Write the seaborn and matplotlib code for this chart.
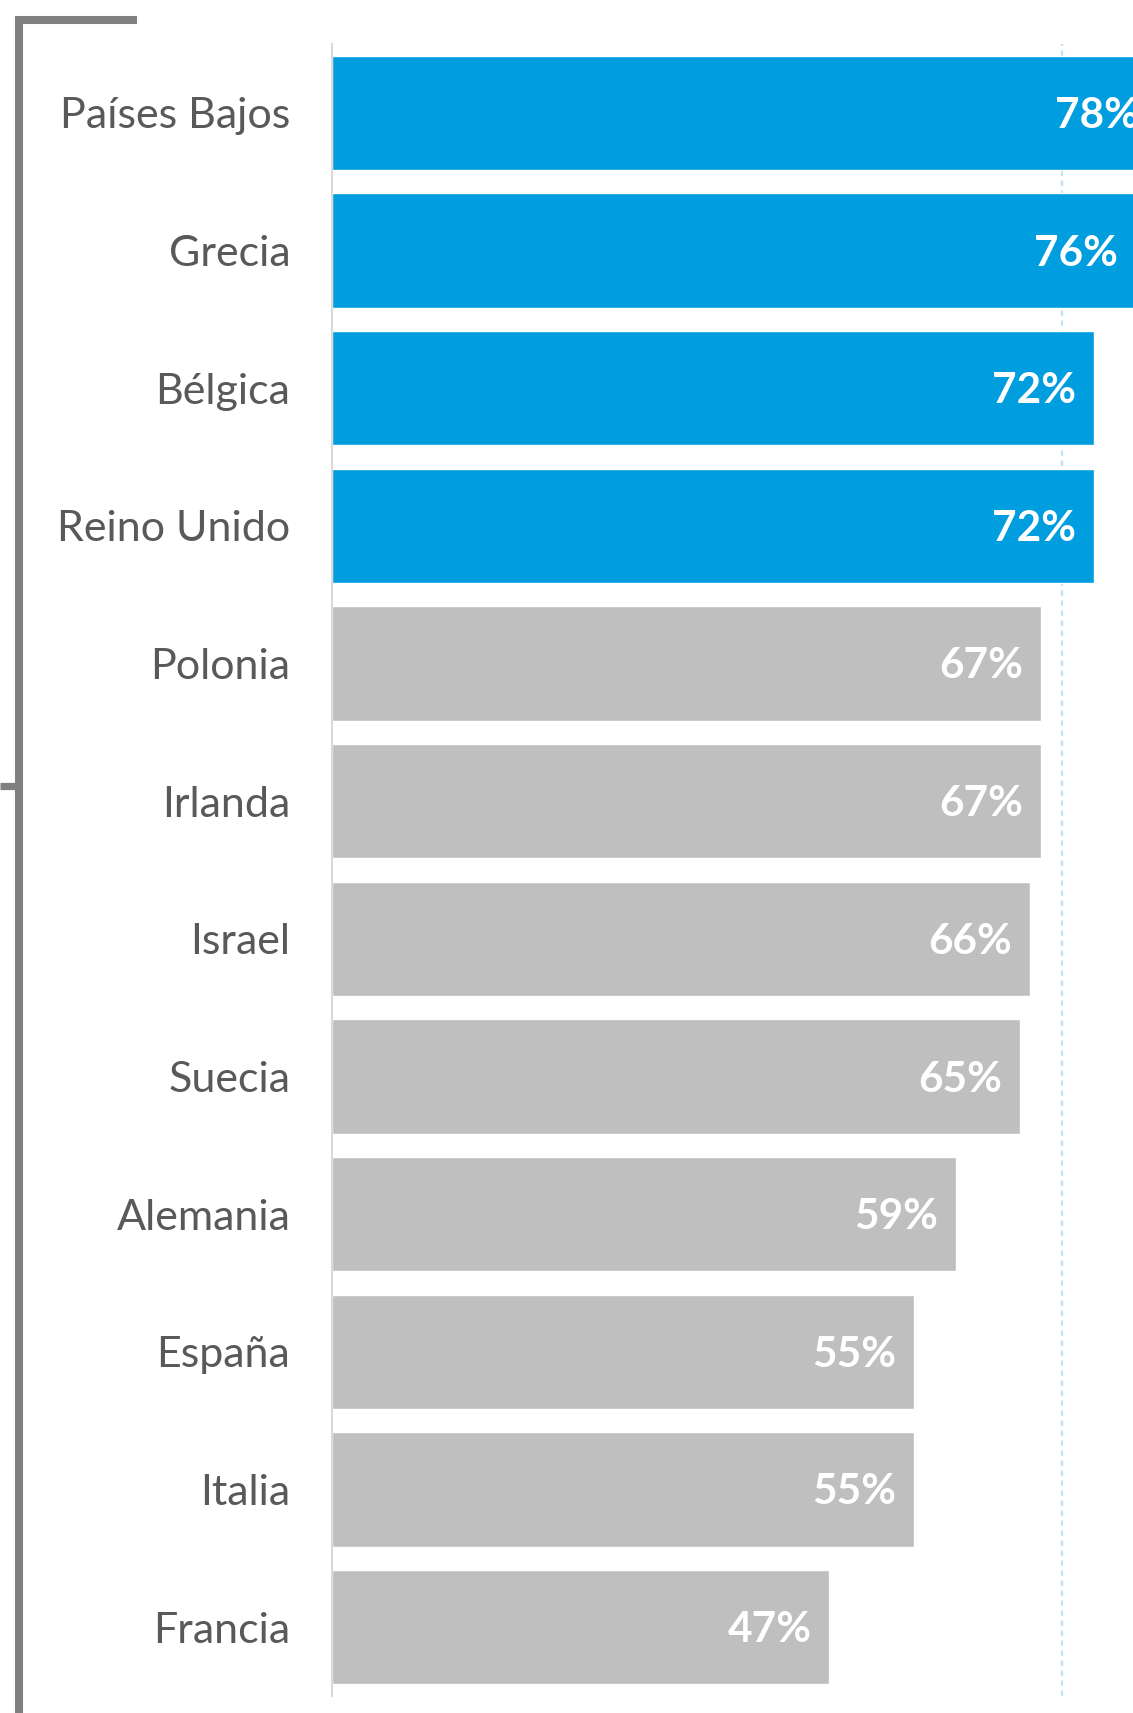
import matplotlib
matplotlib.use("Agg")
import matplotlib.pyplot as plt
from matplotlib.lines import Line2D
import seaborn as sns
import pandas as pd

# Countries, shares and which ones are highlighted
paises = ["Países Bajos", "Grecia", "Bélgica", "Reino Unido", "Polonia", "Irlanda",
          "Israel", "Suecia", "Alemania", "España", "Italia", "Francia"]
valores = [78, 76, 72, 72, 67, 67, 66, 65, 59, 55, 55, 47]
destacados = [True, True, True, True, False, False, False, False, False, False, False, False]
linea_ref = 69

AZUL = "#009DDF"
GRIS = "#BFBFBF"

df = pd.DataFrame({"pais": paises, "valor": valores, "destacado": destacados})
paleta = {p: (AZUL if d else GRIS) for p, d in zip(paises, destacados)}

sns.set_theme(style="white")
plt.rcParams["font.family"] = ["Lato", "DejaVu Sans"]

W, H = 1133, 1713
fig = plt.figure(figsize=(W / 100, H / 100), dpi=100)
ax = fig.add_axes([332 / W, 17 / H, (W - 332) / W, (1696 - 44) / H])

# reference line sits behind the bars
ax.axvline(linea_ref, color="#BDE3F5", lw=1.6, ls=(0, (2.5, 2)), zorder=0)

sns.barplot(data=df, x="valor", y="pais", hue="pais", palette=paleta,
            legend=False, width=0.832, saturation=1, ax=ax, zorder=2)

for i, v in enumerate(valores):
    ax.annotate(f"{v}%", xy=(v, i), xytext=(-18, -3), textcoords="offset pixels",
                ha="right", va="center", color="white", fontsize=30.5,
                fontweight="bold", zorder=3, annotation_clip=False)

ax.set_xlim(0, 75.7)
ax.set_xticks([])
ax.set_xlabel("")
ax.set_ylabel("")
ax.tick_params(axis="y", length=0, pad=30, labelsize=31, labelcolor="#595959")

for s in ["top", "right", "bottom"]:
    ax.spines[s].set_visible(False)
ax.spines["left"].set_color("#D9D9D9")
ax.spines["left"].set_linewidth(1.5)

# bracket decoration on the left edge
gris_b = "#808080"
lw_b = 5.8
fig.add_artist(Line2D([19 / W, 19 / W], [1 - 16 / H, 0], transform=fig.transFigure,
                      color=gris_b, lw=lw_b, solid_capstyle="butt"))
fig.add_artist(Line2D([15 / W, 137 / W], [1 - 20 / H, 1 - 20 / H], transform=fig.transFigure,
                      color=gris_b, lw=lw_b, solid_capstyle="butt"))
fig.add_artist(Line2D([0, 19 / W], [1 - 786 / H, 1 - 786 / H], transform=fig.transFigure,
                      color=gris_b, lw=5.2, solid_capstyle="butt"))

fig.savefig("out.png", dpi=100)
